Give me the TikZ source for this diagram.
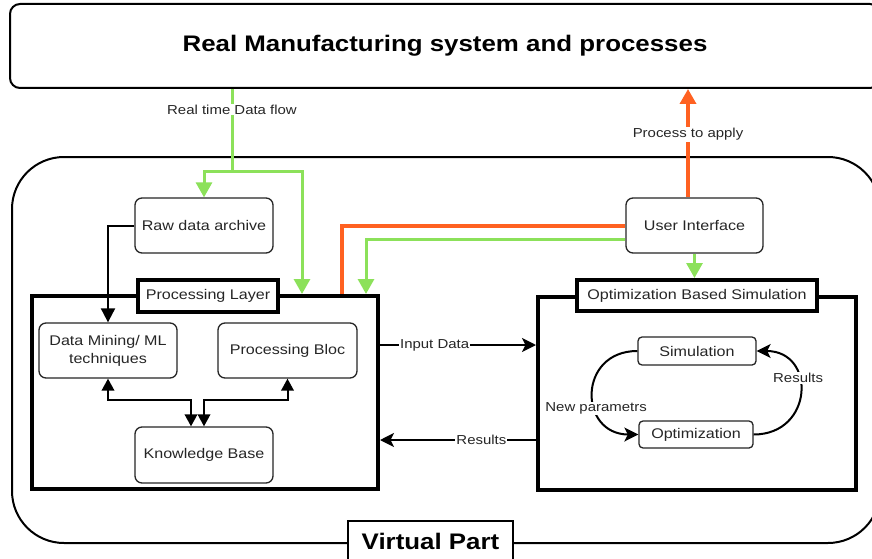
\documentclass[tikz,border=0pt]{standalone}
\usepackage{fontspec}
\setmainfont[FakeStretch=1.15]{Liberation Sans}
\usetikzlibrary{arrows.meta,calc}
\definecolor{lgreen}{HTML}{8CE15A}
\definecolor{dorange}{HTML}{FF6121}
\definecolor{dgray}{HTML}{262626}
\begin{document}
\begin{tikzpicture}[x=1pt,y=-1pt,
  inbox/.style={draw=dgray, line width=1.3pt, rounded corners=7pt, fill=white, text=dgray, align=center, font=\fontsize{14}{18}\selectfont, inner sep=0pt},
  thickbox/.style={draw=black, line width=4pt, fill=white, inner sep=0pt},
  tagbox/.style={draw=black, line width=4pt, fill=white, inner sep=0pt, font=\fontsize{14}{16}\selectfont, text=dgray},
  lbl/.style={fill=white, inner sep=1pt, font=\fontsize{13}{15}\selectfont, text=dgray},
  gline/.style={draw=lgreen, line width=3pt},
  oline/.style={draw=dorange, line width=3.5pt},
  bline/.style={draw=black, line width=2pt},
  gtri/.style={-{Triangle[width=16pt,length=15pt]}},
  tri/.style={-{Triangle[width=14pt,length=14pt]}},
  dtri/.style={{Triangle[width=12.5pt,length=12pt]}-{Triangle[width=12.5pt,length=12pt]}},
  stl/.style={-{Stealth[width=14pt,length=14pt,inset=3.5pt]}},
  bigfont/.style={font=\bfseries\fontsize{22.5}{26}\selectfont}
]
\useasboundingbox (0,0) rectangle (872,559);
\clip (0,0) rectangle (872,559);
\fill[white] (0,0) rectangle (872,559);

% containers
\node[draw=black, line width=2pt, rounded corners=10pt, minimum width=870pt, minimum height=84pt, inner sep=0pt, bigfont] (real) at (445,46) {Real Manufacturing system and processes};
\node[draw=black, line width=2pt, rounded corners=52pt, minimum width=868pt, minimum height=386pt, inner sep=0pt] (virt) at (446,350) {};
\node[draw=black, line width=2.5pt, fill=white, minimum width=165pt, minimum height=40pt, inner sep=0pt, bigfont] (vp) at (430.5,541) {Virtual Part};

\node[thickbox, minimum width=346pt, minimum height=193pt] (pl) at (205,392.5) {};
\node[tagbox, minimum width=140pt, minimum height=32pt] (pll) at (208,296) {Processing Layer};
\node[thickbox, minimum width=318pt, minimum height=193pt] (obs) at (697,393.5) {};
\node[tagbox, minimum width=240pt, minimum height=31pt] (obsl) at (697,295.5) {Optimization Based Simulation};

% inner boxes
\node[inbox, minimum width=138pt, minimum height=55pt] (raw) at (204,225.5) {Raw data archive};
\node[inbox, minimum width=138pt, minimum height=55pt] (dm) at (108,350.5) {Data Mining/ ML\\techniques};
\node[inbox, minimum width=139pt, minimum height=55pt] (pb) at (287.5,350.5) {Processing Bloc};
\node[inbox, minimum width=138pt, minimum height=56pt] (kb) at (204,455) {Knowledge Base};
\node[inbox, minimum width=137pt, minimum height=55pt] (ui) at (694.5,225.5) {User Interface};
\node[inbox, rounded corners=4pt, minimum width=118pt, minimum height=28pt] (sim) at (697,351) {Simulation};
\node[inbox, rounded corners=4pt, minimum width=114pt, minimum height=27pt] (opt) at (696,434.5) {Optimization};

% helper coordinates
\coordinate (gs) at (232,171);
\coordinate (g2) at (302,0);
\coordinate (o1) at (342,0);
\coordinate (g3) at (366,0);
\coordinate (uo) at (688,0);
\coordinate (yo) at (0,226);
\coordinate (yg) at (0,239);
\coordinate (yin) at (0,345);
\coordinate (yres) at (0,440);
\coordinate (k1) at (191,400);
\coordinate (k2) at (204,400);

% green data flow
\draw[gline] (real.south -| gs) -- (gs) node[lbl, pos=0.25] {Real time Data flow};
\draw[gline, gtri] (gs) -| (raw.north);
\draw[gline, gtri] (gs) -| (pl.north -| g2);

% user interface connectors
\draw[oline] (ui.west |- yo) -| (pl.north -| o1);
\draw[gline, gtri] (ui.west |- yg) -| (pl.north -| g3);
\draw[oline, gtri] (ui.north -| uo) -- (real.south -| uo) node[lbl, pos=0.58] {Process to apply};
\draw[gline, gtri] (ui.south) -- (ui.south |- obsl.north);

% processing layer internals
\draw[bline, tri] (raw.west) -| (dm.north);
\draw[bline, dtri] (dm.south) |- (k1) -- (kb.north -| k1);
\draw[bline, dtri] (pb.south) |- (k2) -- (kb.north -| k2);

% between layers
\draw[bline, stl] (pl.east |- yin) -- (obs.west |- yin) node[lbl, pos=0.35] {Input Data};
\draw[bline, stl] (obs.west |- yres) -- (pl.east |- yres) node[lbl, pos=0.35] {Results};

% optimisation loop
\draw[bline, stl] (opt.east) .. controls +(60,0) and +(60,0) .. (sim.east) node[lbl, pos=0.62] {Results};
\draw[bline, stl] (sim.west) .. controls +(-60,0) and +(-60,0) .. (opt.west) node[lbl, pos=0.63] {New parametrs};
\end{tikzpicture}
\end{document}
